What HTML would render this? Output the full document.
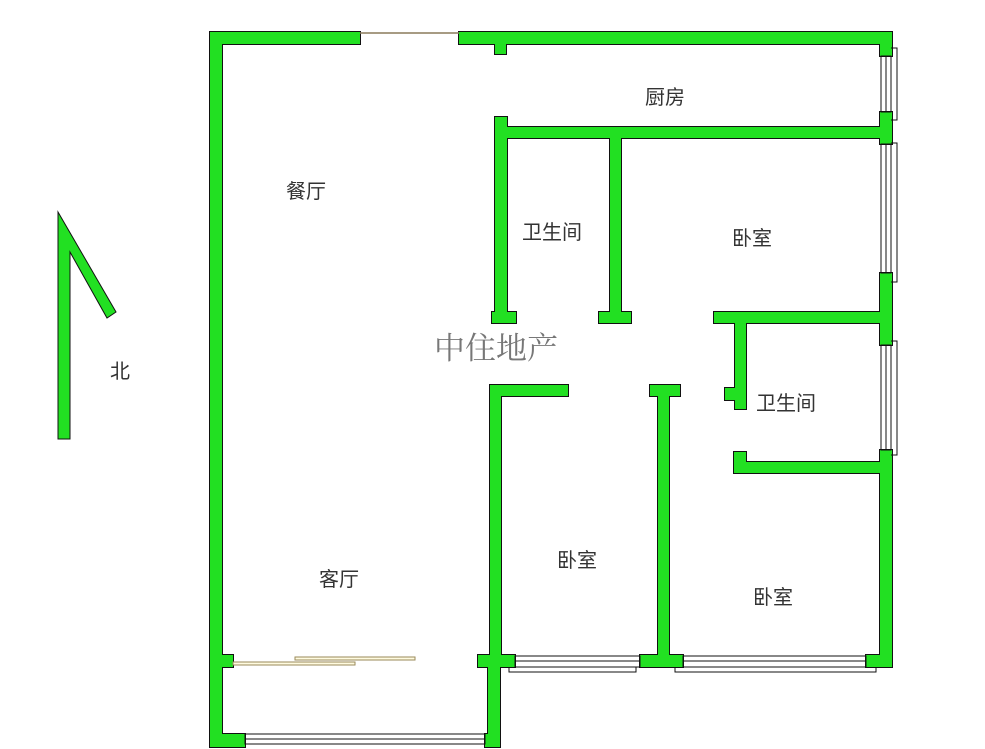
<!DOCTYPE html>
<html><head><meta charset="utf-8"><style>
html,body{margin:0;padding:0;background:#fff;}
svg{display:block}
text{font-family:"Liberation Sans","Noto Sans CJK SC",sans-serif;fill:#333;font-size:20px}
</style></head><body>
<svg width="985" height="749" viewBox="0 0 985 749" xmlns="http://www.w3.org/2000/svg">
<defs>
<g id="w">
<rect x="210" y="32" width="150" height="12"/>
<rect x="459" y="32" width="433" height="12"/>
<rect x="495" y="44" width="11" height="10"/>
<rect x="210" y="32" width="12" height="715"/>
<rect x="880" y="32" width="12" height="24"/>
<rect x="880" y="112" width="12" height="32"/>
<rect x="880" y="273" width="12" height="72"/>
<rect x="880" y="450" width="12" height="217"/>
<rect x="495" y="127" width="397" height="11"/>
<rect x="495" y="117" width="12" height="205"/>
<rect x="492" y="312" width="24" height="11"/>
<rect x="610" y="138" width="11" height="184"/>
<rect x="599" y="312" width="32" height="11"/>
<rect x="714" y="312" width="178" height="11"/>
<rect x="735" y="323" width="11" height="86"/>
<rect x="725" y="388" width="12" height="12"/>
<rect x="734" y="462" width="158" height="11"/>
<rect x="734" y="452" width="12" height="12"/>
<rect x="490" y="385" width="78" height="11"/>
<rect x="490" y="385" width="11" height="282"/>
<rect x="650" y="385" width="30" height="11"/>
<rect x="658" y="385" width="11" height="282"/>
<rect x="478" y="655" width="37" height="12"/>
<rect x="640" y="655" width="43" height="12"/>
<rect x="866" y="655" width="26" height="12"/>
<rect x="222" y="655" width="11" height="12"/>
<rect x="488" y="665" width="12" height="82"/>
<rect x="210" y="734" width="35" height="13"/>
<rect x="485" y="734" width="15" height="13"/>
</g>
</defs>
<use href="#w" fill="none" stroke="#111" stroke-width="2"/>
<use href="#w" fill="#22e022"/>
<line x1="360" y1="33" x2="459" y2="33" stroke="#8a7a5a" stroke-width="1.5"/>
<g fill="none" stroke="#111" stroke-width="1">
<rect x="881" y="56" width="10" height="56"/><line x1="886" y1="56" x2="886" y2="112"/>
<polyline points="891,48 897,48 897,120 891,120"/>
<rect x="881" y="144" width="10" height="129"/><line x1="886" y1="144" x2="886" y2="273"/>
<polyline points="891,143 897,143 897,282 891,282"/>
<rect x="881" y="345" width="10" height="105"/><line x1="886" y1="345" x2="886" y2="450"/>
<polyline points="891,341 897,341 897,455 891,455"/>
<rect x="515" y="656" width="125" height="11"/><line x1="515" y1="661" x2="640" y2="661"/>
<polyline points="509,667 509,672 636,672 636,667"/>
<rect x="683" y="656" width="183" height="11"/><line x1="683" y1="661" x2="866" y2="661"/>
<polyline points="675,667 675,672 876,672 876,667"/>
<rect x="245" y="734" width="240" height="10"/><line x1="245" y1="739" x2="485" y2="739"/>
</g>
<g fill="#fffbe0" stroke="#9a8a5a" stroke-width="1">
<rect x="295" y="657" width="120" height="3"/>
<rect x="233" y="662" width="122" height="3"/>
</g>
<polygon points="58,212 116,312 107,318 70,252 70,439 58,439" fill="#22e022" stroke="#111" stroke-width="1"/>
<text x="110" y="378">北</text>
<text x="645" y="104">厨房</text>
<text x="286" y="198">餐厅</text>
<text x="522" y="239">卫生间</text>
<text x="732" y="245">卧室</text>
<text x="756" y="410">卫生间</text>
<text x="557" y="567">卧室</text>
<text x="319" y="586">客厅</text>
<text x="753" y="604">卧室</text>
<text x="434" y="359" style="font-family:'Liberation Serif','Noto Serif CJK SC',serif;font-size:31px;fill:#777">中住地产</text>
</svg>
</body></html>
